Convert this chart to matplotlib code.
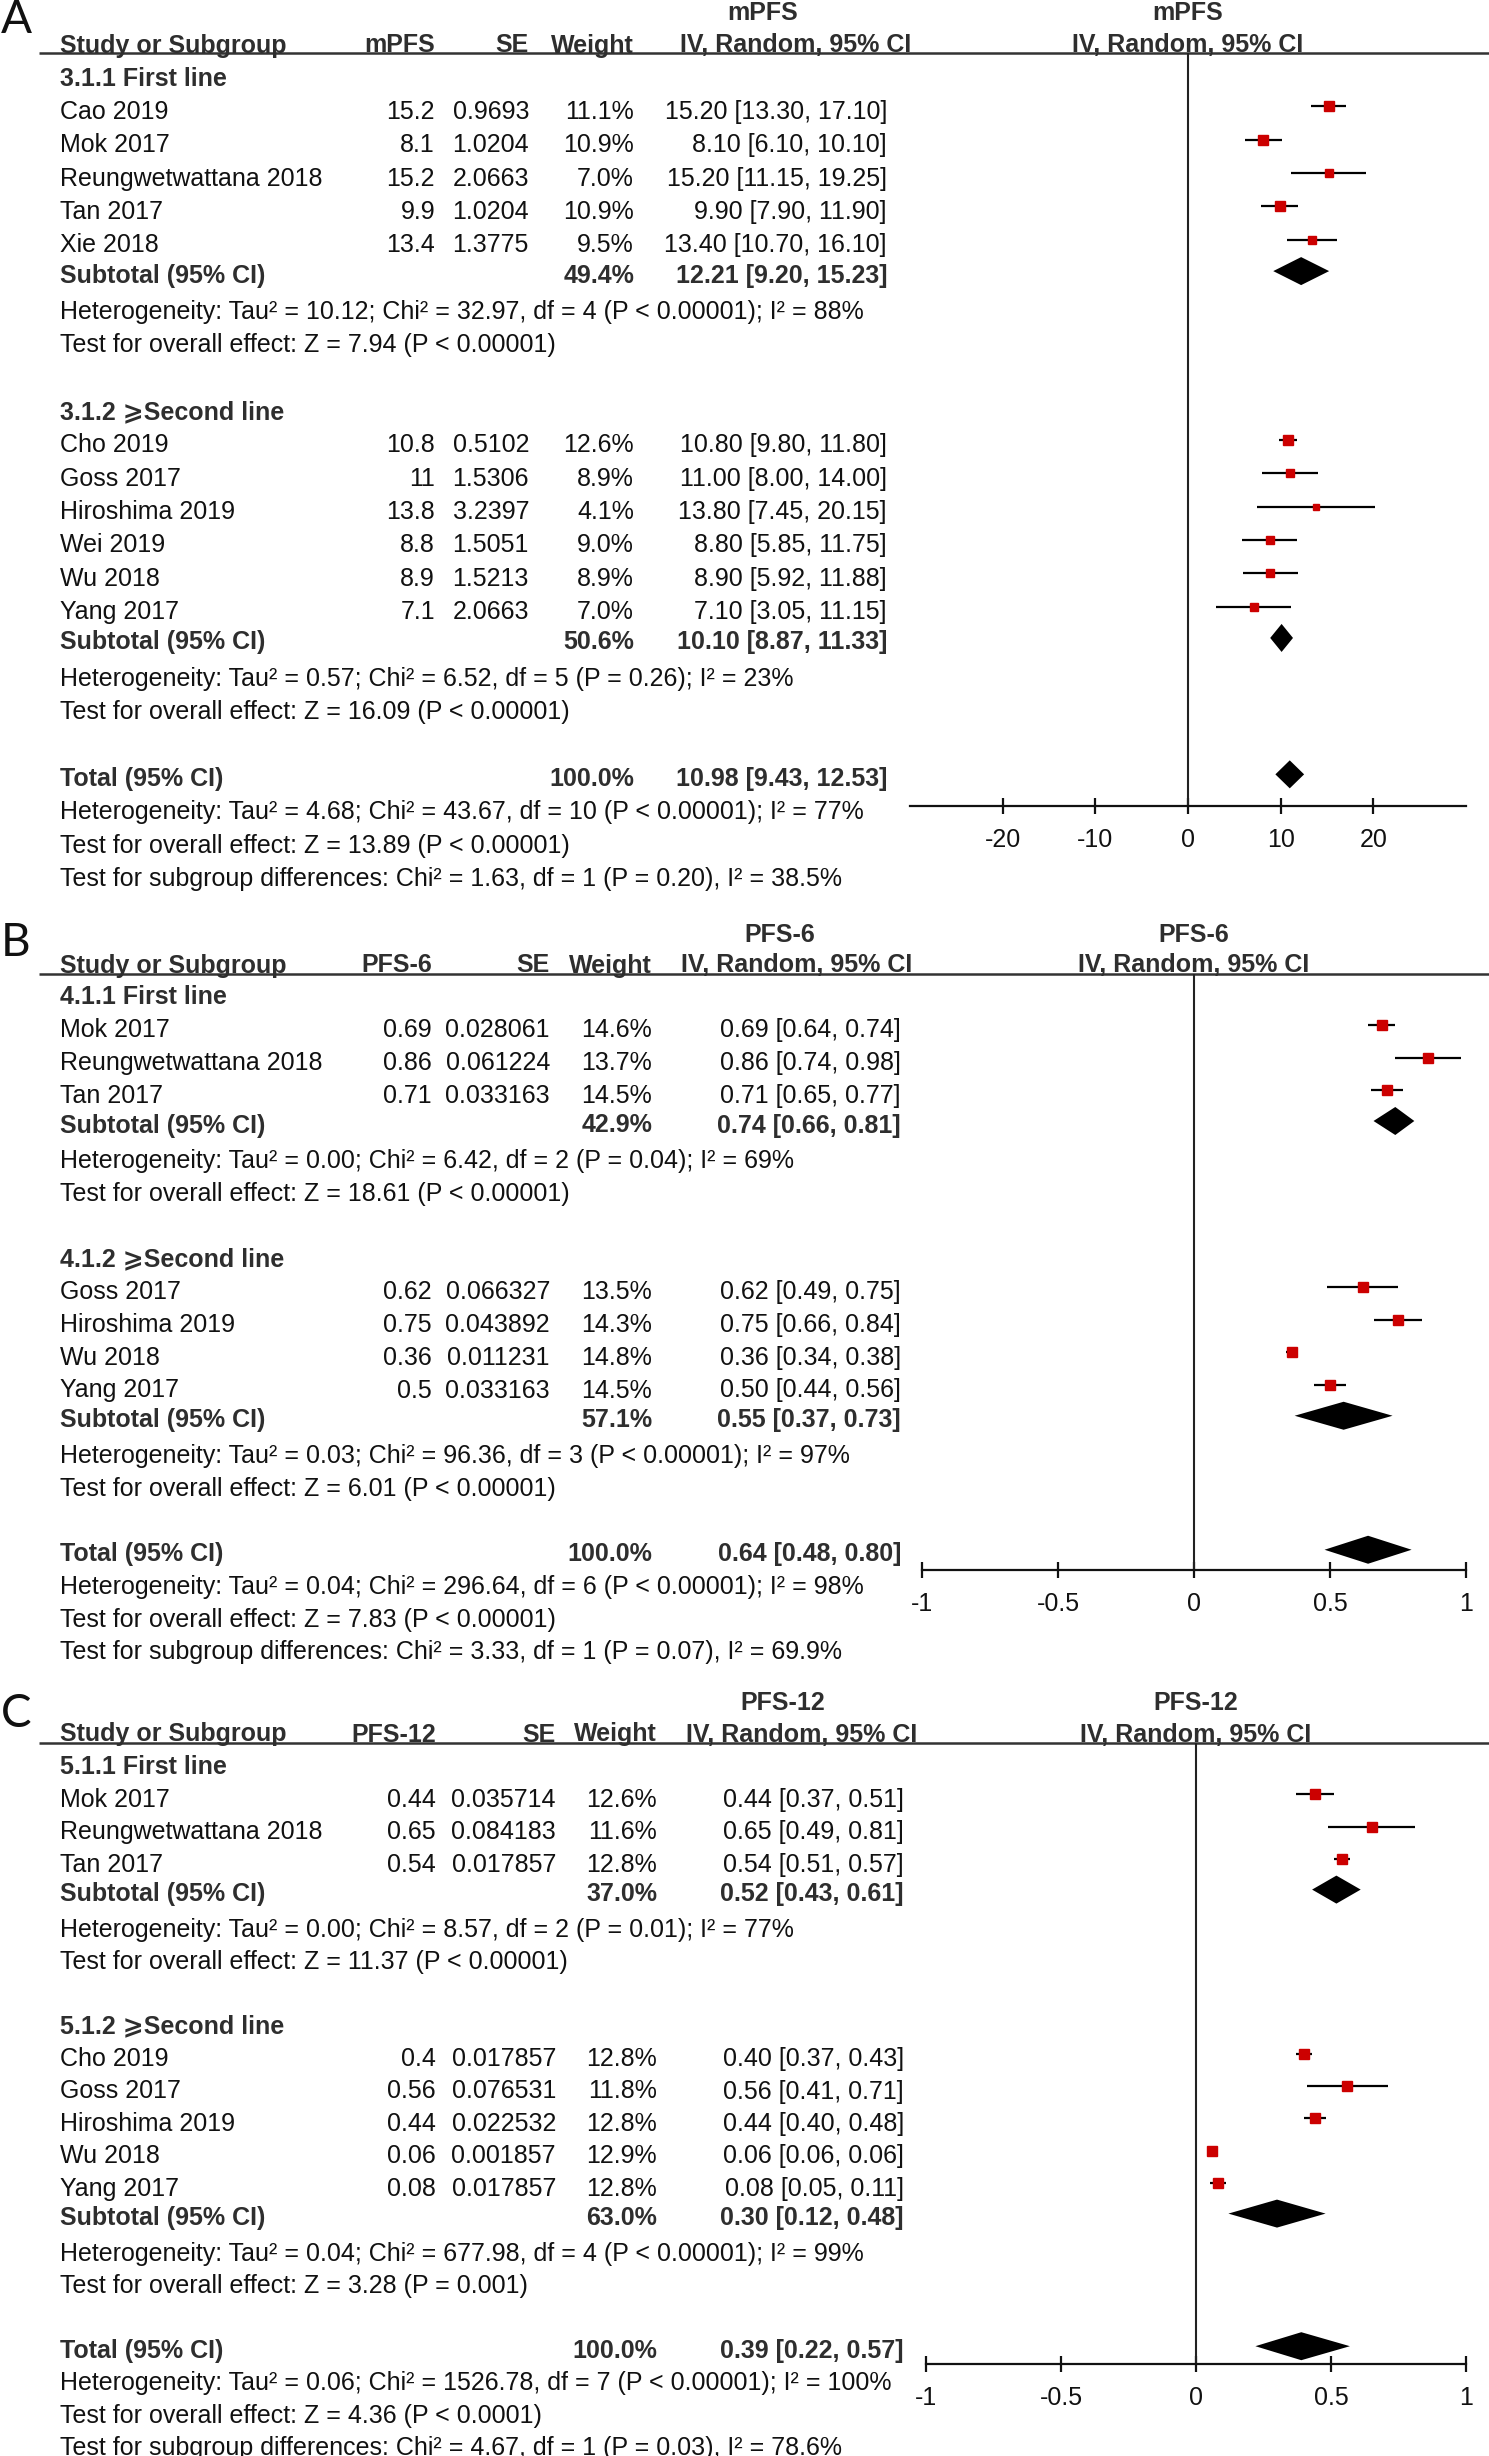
"""
Forest plots: mPFS, PFS-6, PFS-12 (random effects, IV)
"""
import numpy as np
import matplotlib
matplotlib.use("Agg")
import matplotlib.pyplot as plt

W, H = 1489, 2456
FONT = ["Liberation Sans", "DejaVu Sans"]
plt.rcParams["font.family"] = FONT

# ---------------- Panel A : mPFS ----------------
a_groups = ["3.1.1 First line", "3.1.2 \u2A7ESecond line"]
a_studies = [["Cao 2019", "Mok 2017", "Reungwetwattana 2018", "Tan 2017", "Xie 2018"],
             ["Cho 2019", "Goss 2017", "Hiroshima 2019", "Wei 2019", "Wu 2018", "Yang 2017"]]
a_est = [[15.2, 8.1, 15.2, 9.9, 13.4], [10.8, 11, 13.8, 8.8, 8.9, 7.1]]
a_se = [[0.9693, 1.0204, 2.0663, 1.0204, 1.3775],
        [0.5102, 1.5306, 3.2397, 1.5051, 1.5213, 2.0663]]
a_weight = [[11.1, 10.9, 7.0, 10.9, 9.5], [12.6, 8.9, 4.1, 9.0, 8.9, 7.0]]
a_lo = [[13.30, 6.10, 11.15, 7.90, 10.70], [9.80, 8.00, 7.45, 5.85, 5.92, 3.05]]
a_hi = [[17.10, 10.10, 19.25, 11.90, 16.10], [11.80, 14.00, 20.15, 11.75, 11.88, 11.15]]
a_sub_weight = [49.4, 50.6]
a_sub_est = [12.21, 10.10]
a_sub_lo = [9.20, 8.87]
a_sub_hi = [15.23, 11.33]
a_sub_het = ["Heterogeneity: Tau\u00b2 = 10.12; Chi\u00b2 = 32.97, df = 4 (P < 0.00001); I\u00b2 = 88%",
             "Heterogeneity: Tau\u00b2 = 0.57; Chi\u00b2 = 6.52, df = 5 (P = 0.26); I\u00b2 = 23%"]
a_sub_test = ["Test for overall effect: Z = 7.94 (P < 0.00001)",
              "Test for overall effect: Z = 16.09 (P < 0.00001)"]
a_total = [10.98, 9.43, 12.53]
a_total_notes = ["Heterogeneity: Tau\u00b2 = 4.68; Chi\u00b2 = 43.67, df = 10 (P < 0.00001); I\u00b2 = 77%",
                 "Test for overall effect: Z = 13.89 (P < 0.00001)",
                 "Test for subgroup differences: Chi\u00b2 = 1.63, df = 1 (P = 0.20), I\u00b2 = 38.5%"]
a_ticks = [-20, -10, 0, 10, 20]

# ---------------- Panel B : PFS-6 ----------------
b_groups = ["4.1.1 First line", "4.1.2 \u2A7ESecond line"]
b_studies = [["Mok 2017", "Reungwetwattana 2018", "Tan 2017"],
             ["Goss 2017", "Hiroshima 2019", "Wu 2018", "Yang 2017"]]
b_est = [[0.69, 0.86, 0.71], [0.62, 0.75, 0.36, 0.5]]
b_se = [[0.028061, 0.061224, 0.033163], [0.066327, 0.043892, 0.011231, 0.033163]]
b_weight = [[14.6, 13.7, 14.5], [13.5, 14.3, 14.8, 14.5]]
b_lo = [[0.64, 0.74, 0.65], [0.49, 0.66, 0.34, 0.44]]
b_hi = [[0.74, 0.98, 0.77], [0.75, 0.84, 0.38, 0.56]]
b_sub_weight = [42.9, 57.1]
b_sub_est = [0.74, 0.55]
b_sub_lo = [0.66, 0.37]
b_sub_hi = [0.81, 0.73]
b_sub_het = ["Heterogeneity: Tau\u00b2 = 0.00; Chi\u00b2 = 6.42, df = 2 (P = 0.04); I\u00b2 = 69%",
             "Heterogeneity: Tau\u00b2 = 0.03; Chi\u00b2 = 96.36, df = 3 (P < 0.00001); I\u00b2 = 97%"]
b_sub_test = ["Test for overall effect: Z = 18.61 (P < 0.00001)",
              "Test for overall effect: Z = 6.01 (P < 0.00001)"]
b_total = [0.64, 0.48, 0.80]
b_total_notes = ["Heterogeneity: Tau\u00b2 = 0.04; Chi\u00b2 = 296.64, df = 6 (P < 0.00001); I\u00b2 = 98%",
                 "Test for overall effect: Z = 7.83 (P < 0.00001)",
                 "Test for subgroup differences: Chi\u00b2 = 3.33, df = 1 (P = 0.07), I\u00b2 = 69.9%"]
b_ticks = [-1, -0.5, 0, 0.5, 1]

# ---------------- Panel C : PFS-12 ----------------
c_groups = ["5.1.1 First line", "5.1.2 \u2A7ESecond line"]
c_studies = [["Mok 2017", "Reungwetwattana 2018", "Tan 2017"],
             ["Cho 2019", "Goss 2017", "Hiroshima 2019", "Wu 2018", "Yang 2017"]]
c_est = [[0.44, 0.65, 0.54], [0.4, 0.56, 0.44, 0.06, 0.08]]
c_se = [[0.035714, 0.084183, 0.017857], [0.017857, 0.076531, 0.022532, 0.001857, 0.017857]]
c_weight = [[12.6, 11.6, 12.8], [12.8, 11.8, 12.8, 12.9, 12.8]]
c_lo = [[0.37, 0.49, 0.51], [0.37, 0.41, 0.40, 0.06, 0.05]]
c_hi = [[0.51, 0.81, 0.57], [0.43, 0.71, 0.48, 0.06, 0.11]]
c_sub_weight = [37.0, 63.0]
c_sub_est = [0.52, 0.30]
c_sub_lo = [0.43, 0.12]
c_sub_hi = [0.61, 0.48]
c_sub_het = ["Heterogeneity: Tau\u00b2 = 0.00; Chi\u00b2 = 8.57, df = 2 (P = 0.01); I\u00b2 = 77%",
             "Heterogeneity: Tau\u00b2 = 0.04; Chi\u00b2 = 677.98, df = 4 (P < 0.00001); I\u00b2 = 99%"]
c_sub_test = ["Test for overall effect: Z = 11.37 (P < 0.00001)",
              "Test for overall effect: Z = 3.28 (P = 0.001)"]
c_total = [0.39, 0.22, 0.57]
c_total_notes = ["Heterogeneity: Tau\u00b2 = 0.06; Chi\u00b2 = 1526.78, df = 7 (P < 0.00001); I\u00b2 = 100%",
                 "Test for overall effect: Z = 4.36 (P < 0.0001)",
                 "Test for subgroup differences: Chi\u00b2 = 4.67, df = 1 (P = 0.03), I\u00b2 = 78.6%"]
c_ticks = [-1, -0.5, 0, 0.5, 1]

FS = 18
TXT = "#111111"
BOLD = "#2e2e2e"
RED = "#cc0000"

fig = plt.figure(figsize=(W / 100, H / 100), dpi=100)
bg = fig.add_axes([0, 0, 1, 1])
bg.set_xlim(0, W)
bg.set_ylim(H, 0)
bg.axis("off")


def txt(x, y, s, ha="left", bold=False, **kw):
    # y is the visual centre of capitals
    bg.text(x, y + 8.5, s, ha=ha, va="baseline", fontsize=FS,
            fontweight="bold" if bold else "normal",
            color=BOLD if bold else TXT, **kw)


def draw_panel(letter, measure, groups, studies, est, se, weight, lo, hi,
               sub_w, sub_e, sub_l, sub_h, sub_het, sub_test, total, total_notes,
               ticks, xlim, lay):
    cols = lay["cols"]  # right edges: value, se, weight, ci
    # panel letter
    bg.text(1, lay["letter_y"], letter, fontsize=33, family=["Lato", "DejaVu Sans"],
            fontweight="normal", va="center", ha="left", color="#111111")
    # headers
    txt(lay["title_x"], lay["title_y"], measure, ha="center", bold=True)
    txt(lay["zero_x"], lay["title_y"], measure, ha="center", bold=True)
    hy = lay["header_y"]
    txt(60, hy, "Study or Subgroup", bold=True)
    txt(cols[0], hy, measure, ha="right", bold=True)
    txt(cols[1], hy, "SE", ha="right", bold=True)
    txt(cols[2], hy, "Weight", ha="right", bold=True)
    txt(lay["cihead_x"], hy, "IV, Random, 95% CI", ha="center", bold=True)
    txt(lay["zero_x"], hy, "IV, Random, 95% CI", ha="center", bold=True)
    bg.plot([39, W], [lay["rule_y"], lay["rule_y"]], color="#333333", lw=1.8,
            solid_capstyle="butt")

    # forest axes: y in figure pixels
    x0, x1, ay, ry = lay["ax_x0"], lay["ax_x1"], lay["axis_y"], lay["rule_y"]
    ax = fig.add_axes([x0 / W, 1 - ay / H, (x1 - x0) / W, (ay - ry) / H])
    ax.set_xlim(*xlim)
    ax.set_ylim(ay, ry)
    ax.patch.set_alpha(0)
    for s in ["top", "left", "right"]:
        ax.spines[s].set_visible(False)
    ax.spines["bottom"].set_linewidth(1.6)
    ax.spines["bottom"].set_color("#111111")
    ax.set_yticks([])
    ax.set_xticks(ticks)
    ax.set_xticklabels([("%g" % t) for t in ticks])
    ax.tick_params(axis="x", direction="inout", length=11, width=1.6,
                   pad=10, labelsize=FS, colors="#111111")
    for lab in ax.get_xticklabels():
        lab.set_color(TXT)
    ax.axvline(0, color="#222222", lw=1.5)

    y0, step = lay["first_y"], lay["step"]
    off = -4
    dh = 14

    def diamond(e, l, h, y):
        ax.fill([l, e, h, e], [y, y - dh, y, y + dh], color="black", lw=0)

    r = 0
    for g in range(len(groups)):
        txt(60, y0 + r * step, groups[g], bold=True)
        r += 1
        for i in range(len(studies[g])):
            y = y0 + r * step
            txt(60, y, studies[g][i])
            txt(cols[0], y, "%g" % est[g][i], ha="right")
            txt(cols[1], y, "%g" % se[g][i], ha="right")
            txt(cols[2], y, "%.1f%%" % weight[g][i], ha="right")
            txt(cols[3], y, "%.2f [%.2f, %.2f]" % (est[g][i], lo[g][i], hi[g][i]), ha="right")
            ax.plot([lo[g][i], hi[g][i]], [y + off, y + off], color="black", lw=1.6,
                    solid_capstyle="butt", zorder=2)
            side = 2.8 * np.sqrt(weight[g][i])
            ax.plot([est[g][i]], [y + off], marker="s", ms=side * 0.72, color=RED,
                    mec=RED, lw=0, zorder=3)
            r += 1
        y = y0 + r * step - 3
        txt(60, y, "Subtotal (95% CI)", bold=True)
        txt(cols[2], y, "%.1f%%" % sub_w[g], ha="right", bold=True)
        txt(cols[3], y, "%.2f [%.2f, %.2f]" % (sub_e[g], sub_l[g], sub_h[g]), ha="right", bold=True)
        diamond(sub_e[g], sub_l[g], sub_h[g], y + off + 1)
        r += 1
        txt(60, y0 + r * step, sub_het[g])
        r += 1
        txt(60, y0 + r * step, sub_test[g])
        r += 2
    y = y0 + r * step
    txt(60, y, "Total (95% CI)", bold=True)
    txt(cols[2], y, "100.0%", ha="right", bold=True)
    txt(cols[3], y, "%.2f [%.2f, %.2f]" % tuple(total), ha="right", bold=True)
    diamond(total[0], total[1], total[2], y + off + 1)
    r += 1
    for note in total_notes:
        txt(60, y0 + r * step, note)
        r += 1


draw_panel("A", "mPFS", a_groups, a_studies, a_est, a_se, a_weight, a_lo, a_hi,
           a_sub_weight, a_sub_est, a_sub_lo, a_sub_hi, a_sub_het, a_sub_test,
           a_total, a_total_notes, a_ticks, (-30, 30),
           dict(cols=[435, 529, 634, 887], letter_y=20, title_x=763, title_y=12,
                header_y=44, rule_y=53, cihead_x=796, zero_x=1188,
                ax_x0=910, ax_x1=1466, axis_y=806, first_y=77, step=33.35))

draw_panel("B", "PFS-6", b_groups, b_studies, b_est, b_se, b_weight, b_lo, b_hi,
           b_sub_weight, b_sub_est, b_sub_lo, b_sub_hi, b_sub_het, b_sub_test,
           b_total, b_total_notes, b_ticks, (-1, 1),
           dict(cols=[432, 550, 652, 901], letter_y=943, title_x=780, title_y=933,
                header_y=964, rule_y=974, cihead_x=797, zero_x=1194,
                ax_x0=922, ax_x1=1466, axis_y=1570, first_y=996, step=32.75))

draw_panel("C", "PFS-12", c_groups, c_studies, c_est, c_se, c_weight, c_lo, c_hi,
           c_sub_weight, c_sub_est, c_sub_lo, c_sub_hi, c_sub_het, c_sub_test,
           c_total, c_total_notes, c_ticks, (-1, 1),
           dict(cols=[436, 556, 657, 904], letter_y=1714, title_x=783, title_y=1701,
                header_y=1733, rule_y=1743, cihead_x=802, zero_x=1196,
                ax_x0=926, ax_x1=1466, axis_y=2364, first_y=1766, step=32.4))

fig.savefig("out.png", dpi=100, facecolor="white")
